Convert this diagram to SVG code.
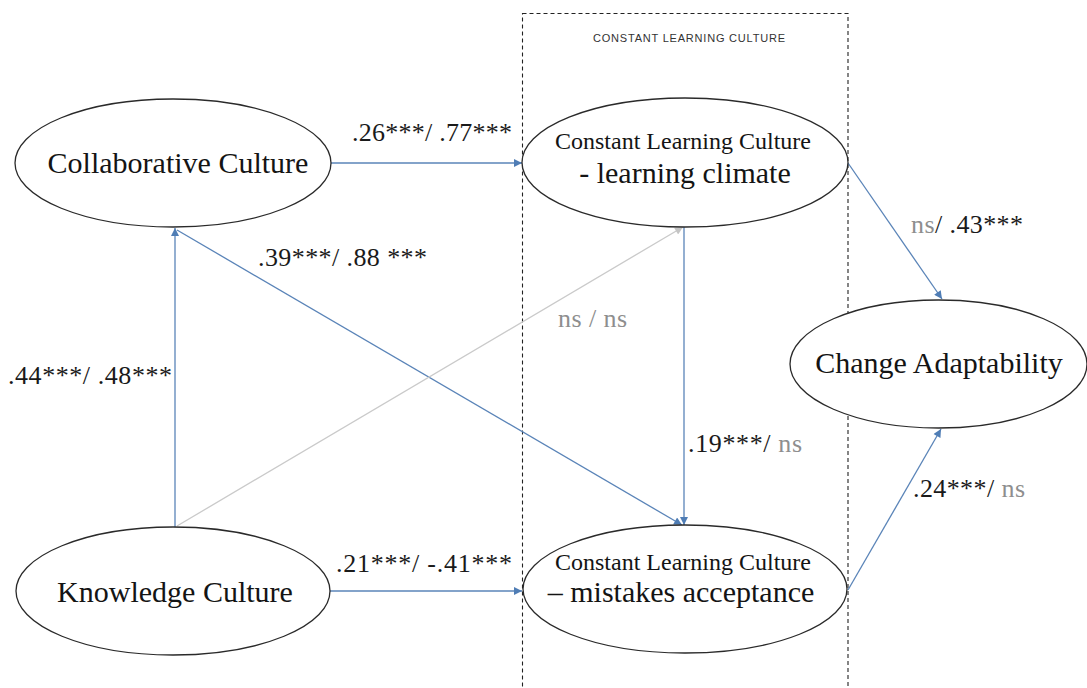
<svg xmlns="http://www.w3.org/2000/svg" width="1087" height="688" viewBox="0 0 1087 688">
<defs>
<style>
.bg{fill:#ffffff}
.box{fill:none;stroke:#222;stroke-width:1.1;stroke-dasharray:4,3}
.hdr{font-family:"Liberation Sans",Arial,sans-serif;font-size:11px;fill:#333}
.node ellipse{fill:#ffffff;stroke:#2a2a2a;stroke-width:1.3}
.nt{font-family:"Liberation Serif","Times New Roman",serif;font-size:30px;fill:#141414;text-anchor:middle}
.ns{font-family:"Liberation Serif","Times New Roman",serif;font-size:24px;fill:#141414;text-anchor:middle}
.conn{fill:none;stroke:#5a84b8;stroke-width:1.3}
.conn-gray{fill:none;stroke:#cacaca;stroke-width:1.3}
.lbl{font-family:"Liberation Serif","Times New Roman",serif;font-size:26px;fill:#1a1a1a}
.g{fill:#8e8e8e}
</style>
<marker id="ah" markerUnits="userSpaceOnUse" viewBox="0 0 10 10" markerWidth="10" markerHeight="8" refX="10" refY="5" orient="auto">
<path d="M0,0 L10,5 L0,10 z" fill="#4f7db5"/>
</marker>
<marker id="ahg" markerUnits="userSpaceOnUse" viewBox="0 0 10 10" markerWidth="10" markerHeight="8" refX="10" refY="5" orient="auto">
<path d="M0,0 L10,5 L0,10 z" fill="#c4c4c4"/>
</marker>
</defs>
<rect class="bg" x="0" y="0" width="1087" height="688"/>
<g id="group-constant-learning-culture">
<rect class="box" x="522.5" y="13.5" width="325.5" height="690"/>
<text class="hdr" x="689" y="42" text-anchor="middle" textLength="192" lengthAdjust="spacing">CONSTANT  LEARNING  CULTURE</text>
</g>
<g id="connectors">
<line class="conn" x1="331" y1="163" x2="522" y2="163" marker-end="url(#ah)"/>
<line class="conn" x1="175" y1="527" x2="175" y2="228" marker-end="url(#ah)"/>
<line class="conn" x1="177" y1="230" x2="682" y2="525" marker-end="url(#ah)"/>
<line class="conn-gray" x1="177" y1="526" x2="683" y2="227" marker-end="url(#ahg)"/>
<line class="conn" x1="684" y1="227" x2="684" y2="525" marker-end="url(#ah)"/>
<line class="conn" x1="330" y1="591" x2="522" y2="591" marker-end="url(#ah)"/>
<line class="conn" x1="848" y1="163" x2="942" y2="299" marker-end="url(#ah)"/>
<line class="conn" x1="848" y1="590" x2="941" y2="429" marker-end="url(#ah)"/>
<text class="lbl" x="352" y="141" textLength="160" lengthAdjust="spacing">.26***/ .77***</text>
<text class="lbl" x="258" y="266" textLength="169" lengthAdjust="spacing">.39***/ .88 ***</text>
<text class="lbl" x="8" y="384" textLength="164" lengthAdjust="spacing">.44***/ .48***</text>
<text class="lbl g" x="558" y="327" textLength="69" lengthAdjust="spacing">ns / ns</text>
<text class="lbl" x="688" y="452" textLength="114" lengthAdjust="spacing">.19***/ <tspan class="g">ns</tspan></text>
<text class="lbl" x="911" y="233" textLength="112" lengthAdjust="spacing"><tspan class="g">ns</tspan>/ .43***</text>
<text class="lbl" x="336" y="572" textLength="176" lengthAdjust="spacing">.21***/  -.41***</text>
<text class="lbl" x="913" y="497" textLength="112" lengthAdjust="spacing">.24***/ <tspan class="g">ns</tspan></text>
</g>
<g id="node-collaborative-culture" class="node">
<ellipse cx="173" cy="163" rx="158" ry="64"/>
<text class="nt" x="178" y="173">Collaborative Culture</text>
</g>
<g id="node-knowledge-culture" class="node">
<ellipse cx="173" cy="591" rx="157" ry="64"/>
<text class="nt" x="175" y="602">Knowledge Culture</text>
</g>
<g id="node-learning-climate" class="node">
<ellipse cx="685" cy="162.5" rx="163" ry="64.5"/>
<text class="ns" x="683" y="149">Constant Learning  Culture</text>
<text class="nt" x="685" y="183">- learning climate</text>
</g>
<g id="node-mistakes-acceptance" class="node">
<ellipse cx="685" cy="589" rx="162" ry="64"/>
<text class="ns" x="683" y="570">Constant Learning  Culture</text>
<text class="nt" x="681" y="602">– mistakes acceptance</text>
</g>
<g id="node-change-adaptability" class="node">
<ellipse cx="938.5" cy="364" rx="148.5" ry="64"/>
<text class="nt" x="939" y="373">Change Adaptability</text>
</g>
</svg>
